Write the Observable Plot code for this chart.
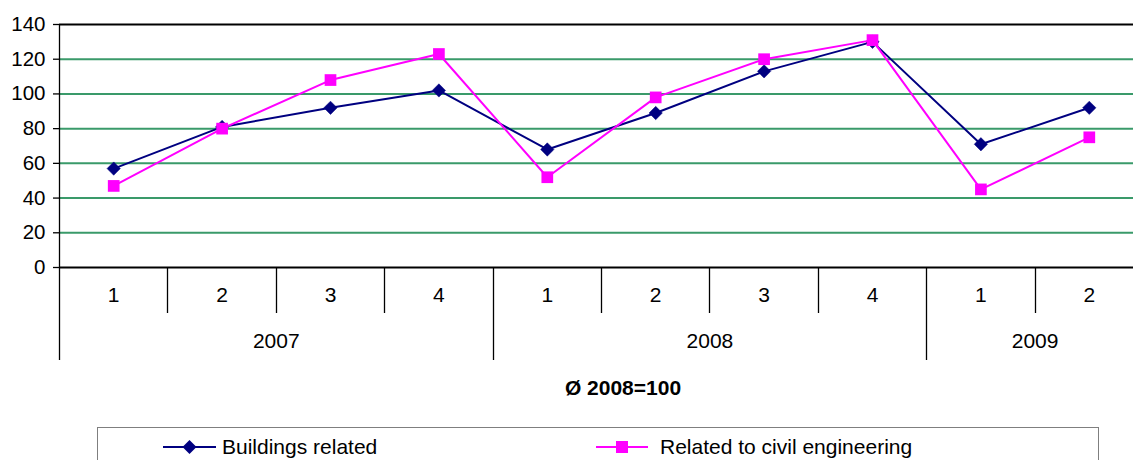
<!DOCTYPE html>
<html>
<head>
<meta charset="utf-8">
<script src="https://cdn.jsdelivr.net/npm/d3@7"></script>
<script src="https://cdn.jsdelivr.net/npm/@observablehq/plot@0.6"></script>
<style>
  html, body { margin: 0; padding: 0; background: #fff; overflow: hidden; }
  #wrap { position: relative; width: 1133px; height: 460px; overflow: hidden; font-family: "Liberation Sans", Arial, sans-serif; }
  #chart svg { display: block; max-width: none !important; }
  #legend { position: absolute; left: 97px; top: 427px; width: 1002px; height: 60px; border: 1px solid #7f7f7f; box-sizing: border-box; }
  .item { position: absolute; top: 6px; height: 26px; display: flex; align-items: center; font-size: 21px; color: #000; white-space: nowrap; }
  .item svg { display: block; }
</style>
</head>
<body>
<div id="wrap">
  <div id="chart"></div>
  <div id="legend"></div>
</div>
<script>
const quarters = ["1", "2", "3", "4", "1", "2", "3", "4", "1", "2"];
const years = ["2007", "2008", "2009"];
const quartersPerYear = [4, 4, 2];
const buildings = [57, 81, 92, 102, 68, 89, 113, 130, 71, 92];
const civil = [47, 80, 108, 123, 52, 98, 120, 131, 45, 75];
const yTicks = [0, 20, 40, 60, 80, 100, 120, 140];
const gridValues = [20, 40, 60, 80, 100, 120];
const seriesNames = ["Buildings related", "Related to civil engineering"];
const caption = "Ø 2008=100";

const NAVY = "#000080", MAGENTA = "#ff00ff", GRID = "#3a9a6a";
const FONT = "Liberation Sans, Arial, sans-serif";

const idx = quarters.map((_, i) => i);
const bData = idx.map(i => ({i, v: buildings[i]}));
const cData = idx.map(i => ({i, v: civil[i]}));

let start = 0;
const yearGroups = years.map((y, k) => {
  const g = {year: y, start: start, end: start + quartersPerYear[k]};
  start += quartersPerYear[k];
  return g;
});

const plot = Plot.plot({
  width: 1143,
  height: 410,
  marginLeft: 59,
  marginRight: 0,
  marginTop: 24,
  marginBottom: 143,
  style: {fontFamily: FONT, fontSize: "21px", color: "#000", background: "transparent", overflow: "visible", maxWidth: "none"},
  x: {type: "linear", domain: [-0.5, quarters.length - 0.5], axis: null},
  y: {domain: [0, 140], axis: null},
  marks: [
    Plot.ruleY(gridValues, {stroke: GRID, strokeWidth: 2}),
    Plot.ruleY([140], {stroke: "#000", strokeWidth: 2}),
    Plot.axisY({ticks: yTicks, tickSize: 6, tickPadding: 8, label: null, stroke: "#000", strokeWidth: 1.3, fontSize: 20.5}),
    Plot.line(bData, {x: "i", y: "v", stroke: NAVY, strokeWidth: 2}),
    Plot.dot(bData, {x: "i", y: "v", symbol: "diamond2", r: 6, fill: NAVY, stroke: NAVY, strokeWidth: 0.5}),
    Plot.line(cData, {x: "i", y: "v", stroke: MAGENTA, strokeWidth: 2}),
    Plot.dot(cData, {x: "i", y: "v", symbol: "square", r: 6.6, fill: MAGENTA, stroke: "none"}),
    Plot.text(idx, {x: d => d, text: d => quarters[d], frameAnchor: "bottom", dy: 34, fontSize: 21, fill: "#000"}),
    Plot.text(yearGroups, {x: d => (d.start + d.end - 1) / 2, text: "year", frameAnchor: "bottom", dy: 80, fontSize: 21, fill: "#000"}),
    Plot.ruleY([0], {stroke: "#000", strokeWidth: 2})
  ]
});

document.getElementById("chart").appendChild(plot);

const xs = plot.scale("x");
const ys = plot.scale("y");
const svg = d3.select(plot);
const y0 = ys.apply(0);
const yearStarts = new Set(yearGroups.map(g => g.start));
const g = svg.append("g").attr("stroke", "#000").attr("stroke-width", 1.3);
for (let k = 0; k <= quarters.length; k++) {
  const x = Math.round(xs.apply(k - 0.5)) + 0.5;
  const isYear = yearStarts.has(k) || k === quarters.length;
  g.append("line").attr("x1", x).attr("x2", x).attr("y1", y0).attr("y2", y0 + (isYear ? 93 : 46));
}
const xl = Math.round(xs.apply(-0.5)) + 0.5;
g.append("line").attr("x1", xl).attr("x2", xl).attr("y1", ys.apply(140)).attr("y2", y0);

svg.append("text")
  .attr("x", 623).attr("y", 388).attr("dy", "0.35em")
  .attr("text-anchor", "middle")
  .attr("font-family", FONT).attr("font-size", 21).attr("font-weight", "bold")
  .text(caption);

const legend = document.getElementById("legend");
function item(left, lineW, gap, name, kind) {
  const div = document.createElement("div");
  div.className = "item";
  div.style.left = left + "px";
  const ns = "http://www.w3.org/2000/svg";
  const s = document.createElementNS(ns, "svg");
  s.setAttribute("width", lineW); s.setAttribute("height", 20);
  s.style.marginRight = gap + "px";
  const line = document.createElementNS(ns, "line");
  line.setAttribute("x1", 0); line.setAttribute("x2", lineW);
  line.setAttribute("y1", 10); line.setAttribute("y2", 10);
  line.setAttribute("stroke", kind === "d" ? NAVY : MAGENTA);
  line.setAttribute("stroke-width", 2);
  s.appendChild(line);
  const c = lineW / 2;
  if (kind === "d") {
    const p = document.createElementNS(ns, "path");
    p.setAttribute("d", `M${c},3L${c + 7},10L${c},17L${c - 7},10Z`);
    p.setAttribute("fill", NAVY);
    s.appendChild(p);
  } else {
    const r = document.createElementNS(ns, "rect");
    r.setAttribute("x", c - 6); r.setAttribute("y", 4); r.setAttribute("width", 12); r.setAttribute("height", 12);
    r.setAttribute("fill", MAGENTA);
    s.appendChild(r);
  }
  div.appendChild(s);
  const t = document.createElement("span");
  t.textContent = name;
  div.appendChild(t);
  legend.appendChild(div);
}
item(65, 53, 6, seriesNames[0], "d");
item(498, 52, 12, seriesNames[1], "s");
</script>
</body>
</html>
